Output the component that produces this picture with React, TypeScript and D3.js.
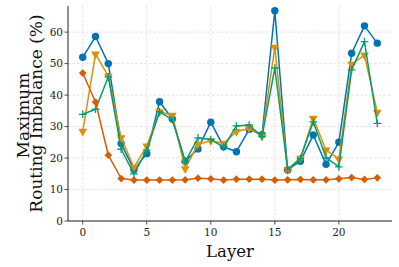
import * as d3 from 'd3';

const layers = d3.range(24);

const blueVals = [52, 58.6, 50, 24.6, 16.3, 21.4, 37.9, 32.4, 19, 22.9, 31.4, 23.6, 22, 29.1, 27.4, 66.8, 16.2, 19, 27.3, 18, 25, 53.3, 62, 56.5];
const orangeVals = [28.5, 53, 46, 26.4, 17, 23.8, 34.7, 33.6, 16.6, 24.4, 25.5, 24.6, 28.4, 29.4, 27, 55.2, 16.2, 19.9, 32.6, 22.5, 19.7, 49.8, 52.7, 34.5];
const greenVals = [33.9, 35.5, 45.8, 22.8, 15, 22.5, 34.7, 32.2, 18.8, 26.4, 25.9, 23.4, 30.2, 30.5, 26.8, 48.6, 16.4, 19.9, 31.5, 20.1, 17.2, 48, 57, 31];
const redVals = [47, 37.8, 20.9, 13.5, 13, 13, 13, 13, 13.1, 13.6, 13.4, 13, 13.3, 13.3, 13.3, 13, 13.1, 13.2, 13.1, 13.1, 13.4, 13.8, 13.2, 13.7];

const xTicks = [0, 5, 10, 15, 20];
const yTicks = [0, 10, 20, 30, 40, 50, 60];

const W = 399;
const H = 267;
const left = 68;
const right = 392;
const top = 6;
const bottom = 221;

const font = 'DejaVu Serif, serif';

const series = [
  { name: 'blue', values: blueVals, color: '#0173B2', marker: 'circle' },
  { name: 'orange', values: orangeVals, color: '#DE8F05', marker: 'tri' },
  { name: 'green', values: greenVals, color: '#029E73', marker: 'plus' },
  { name: 'red', values: redVals, color: '#D55E00', marker: 'diamond' },
];

function Marker({ kind, x, y, color }: { kind: string; x: number; y: number; color: string }) {
  if (kind === 'circle') {
    return <circle cx={x} cy={y} r={3.7} fill={color} />;
  }
  if (kind === 'tri') {
    const p = d3.symbol().type(d3.symbolTriangle).size(34)()!;
    return <path d={p} transform={`translate(${x},${y}) rotate(180)`} fill={color} />;
  }
  if (kind === 'diamond') {
    const p = d3.symbol().type(d3.symbolSquare).size(30)()!;
    return <path d={p} transform={`translate(${x},${y}) rotate(45)`} fill={color} />;
  }
  // plus
  return (
    <path
      d={`M${x - 3.8},${y}H${x + 3.8}M${x},${y - 3.8}V${y + 3.8}`}
      stroke={color}
      strokeWidth={1.3}
      fill="none"
    />
  );
}

export default function App() {
  const x = d3.scaleLinear().domain([-1.15, 24.15]).range([left, right]);
  const y = d3.scaleLinear().domain([0, 68.3]).range([bottom, top]);

  const line = d3
    .line<number>()
    .x((_, i) => x(layers[i]))
    .y(d => y(d));

  const midY = (top + bottom) / 2;

  return (
    <div style={{ position: 'absolute', left: 0, top: 0 }}>
      <svg width={W} height={H} style={{ display: 'block', background: '#fff' }}>
        {/* grid */}
        {xTicks.map(t => (
          <line key={'gx' + t} x1={x(t)} x2={x(t)} y1={top} y2={bottom}
            stroke="#d9d9d9" strokeWidth={0.8} strokeDasharray="2.5,2" />
        ))}
        {yTicks.map(t => (
          <line key={'gy' + t} x1={left} x2={right} y1={y(t)} y2={y(t)}
            stroke="#d9d9d9" strokeWidth={0.8} strokeDasharray="2.5,2" />
        ))}

        {/* series */}
        {series.map(s => (
          <g key={s.name}>
            <path d={line(s.values)!} fill="none" stroke={s.color} strokeWidth={1.5} strokeLinejoin="round" />
            {s.values.map((v, i) => (
              <Marker key={i} kind={s.marker} x={x(layers[i])} y={y(v)} color={s.color} />
            ))}
          </g>
        ))}

        {/* spines */}
        <line x1={left} x2={left} y1={top} y2={bottom} stroke="#222" strokeWidth={1} />
        <line x1={left} x2={right} y1={bottom} y2={bottom} stroke="#222" strokeWidth={1} />

        {/* x ticks */}
        {xTicks.map(t => (
          <g key={'xt' + t}>
            <line x1={x(t)} x2={x(t)} y1={bottom} y2={bottom + 3.5} stroke="#222" strokeWidth={0.8} />
            <text x={x(t)} y={bottom + 15} textAnchor="middle" fontSize={10.5} fontFamily={font} fill="#222">{t}</text>
          </g>
        ))}
        {/* y ticks */}
        {yTicks.map(t => (
          <g key={'yt' + t}>
            <line x1={left - 3.5} x2={left} y1={y(t)} y2={y(t)} stroke="#222" strokeWidth={0.8} />
            <text x={left - 5} y={y(t) + 3.7} textAnchor="end" fontSize={10.5} fontFamily={font} fill="#222">{t}</text>
          </g>
        ))}

        {/* axis labels */}
        <text x={(left + right) / 2} y={256.5} textAnchor="middle" fontSize={16.5} fontFamily={font} fill="#111">Layer</text>
        <text transform={`translate(28.5,${midY + 2}) rotate(-90)`} textAnchor="middle" fontSize={17} fontFamily={font} fill="#111">Maximum</text>
        <text transform={`translate(42,${midY}) rotate(-90)`} textAnchor="middle" fontSize={17} fontFamily={font} fill="#111">Routing Imbalance (%)</text>
      </svg>
    </div>
  );
}
